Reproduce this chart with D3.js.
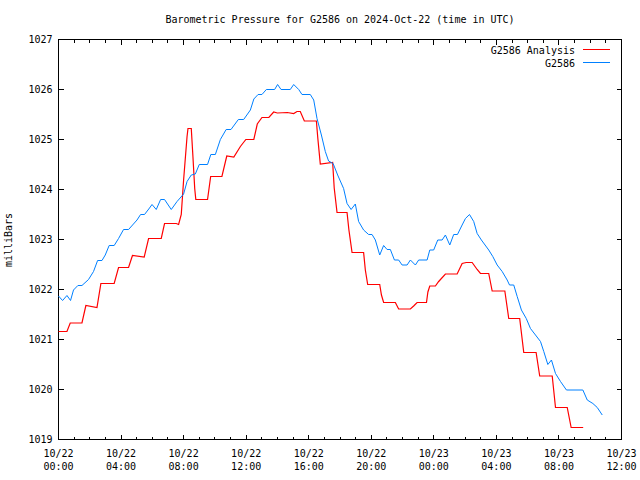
<!DOCTYPE html>
<html><head><meta charset="utf-8">
<script src="https://cdn.jsdelivr.net/npm/d3@7"></script>
<style>
body{margin:0;background:#fff}
text{font-family:"DejaVu Sans Mono","Liberation Mono",monospace;font-size:10px;fill:#000}
</style>
</head><body>
<svg id="c" width="640" height="480"></svg>
<script>
// ---- data (hours since 2024-10-22 00:00 UTC, pressure in millibars) ----
const analysisHours = [0,0.54,0.75,1.5,1.75,2.46,2.71,3.56,3.84,4.48,4.73,5.48,5.76,6.57,6.78,7.53,7.68,7.85,8.0,8.22,8.28,8.49,8.59,8.71,8.78,9.53,9.73,10.45,10.76,11.21,11.63,11.98,12.49,12.71,13.01,13.45,13.76,13.99,14.63,15.04,15.25,15.46,15.72,16.49,16.58,16.74,17.53,17.63,17.81,18.45,18.57,18.77,19.51,19.62,19.77,20.54,20.65,20.79,21.54,21.75,22.5,22.71,22.93,23.53,23.62,23.74,24.1,24.31,24.74,25.49,25.81,26.07,26.45,26.77,26.98,27.51,27.73,28.54,28.79,29.49,29.75,30.54,30.77,31.57,31.78,32.53,32.78,33.55];
const analysisValues = [1021.16,1021.16,1021.33,1021.33,1021.68,1021.64,1022.12,1022.12,1022.44,1022.44,1022.68,1022.65,1023.02,1023.02,1023.32,1023.32,1023.30,1023.50,1024.19,1025.06,1025.22,1025.22,1024.69,1024.02,1023.80,1023.80,1024.26,1024.26,1024.67,1024.65,1024.86,1025.00,1025.00,1025.31,1025.44,1025.44,1025.55,1025.53,1025.54,1025.52,1025.56,1025.56,1025.37,1025.37,1025.03,1024.51,1024.54,1024.03,1023.54,1023.54,1023.19,1022.74,1022.74,1022.39,1022.10,1022.10,1021.89,1021.74,1021.74,1021.61,1021.61,1021.67,1021.74,1021.74,1021.95,1022.07,1022.07,1022.16,1022.31,1022.31,1022.52,1022.54,1022.54,1022.40,1022.32,1022.32,1021.97,1021.97,1021.42,1021.42,1020.74,1020.74,1020.27,1020.27,1019.64,1019.64,1019.24,1019.24];

const obsHours = [0,0.26,0.54,0.77,0.96,1.24,1.5,1.92,2.24,2.5,2.78,2.99,3.24,3.56,3.84,4.16,4.48,5.02,5.25,5.5,5.82,5.98,6.25,6.53,6.78,7.21,7.58,8.0,8.22,8.49,8.75,9.0,9.53,9.74,10.03,10.35,10.72,11.03,11.5,11.84,12.27,12.49,12.76,13.01,13.29,13.82,14.01,14.23,14.82,15.04,15.36,15.57,16.1,16.32,16.53,16.81,17.06,17.27,17.56,17.85,18.23,18.45,18.71,18.98,19.19,19.51,19.83,20.05,20.26,20.54,20.79,21.01,21.22,21.48,21.75,21.97,22.29,22.5,22.82,23.03,23.57,23.74,23.99,24.25,24.53,24.74,25.02,25.27,25.51,25.81,26.02,26.28,26.55,26.77,27.04,27.51,27.77,28.05,28.37,28.69,28.84,29.11,29.33,29.6,29.91,30.18,30.5,30.82,31.03,31.29,31.52,31.78,32.1,32.48,33.53,33.81,34.17,34.45,34.77];
const obsValues = [1021.87,1021.78,1021.88,1021.78,1021.99,1022.08,1022.08,1022.20,1022.36,1022.58,1022.58,1022.69,1022.88,1022.88,1023.02,1023.20,1023.20,1023.39,1023.50,1023.50,1023.63,1023.70,1023.60,1023.80,1023.80,1023.60,1023.76,1023.91,1024.16,1024.29,1024.31,1024.50,1024.50,1024.70,1024.70,1025.00,1025.20,1025.20,1025.40,1025.40,1025.59,1025.81,1025.90,1025.90,1026.00,1026.00,1026.10,1026.00,1026.00,1026.10,1026.00,1025.90,1025.90,1025.79,1025.42,1025.09,1024.76,1024.57,1024.52,1024.29,1024.02,1023.72,1023.60,1023.71,1023.36,1023.19,1023.10,1023.10,1022.99,1022.69,1022.88,1022.80,1022.80,1022.59,1022.59,1022.49,1022.49,1022.59,1022.49,1022.59,1022.59,1022.79,1022.79,1022.99,1022.99,1023.09,1022.89,1023.10,1023.10,1023.29,1023.42,1023.50,1023.36,1023.12,1022.99,1022.79,1022.66,1022.49,1022.36,1022.19,1022.09,1022.09,1021.86,1021.59,1021.42,1021.22,1021.09,1020.96,1020.76,1020.50,1020.59,1020.32,1020.16,1019.99,1019.99,1019.79,1019.72,1019.64,1019.49];

const yTicks = [1019,1020,1021,1022,1023,1024,1025,1026,1027];
const xTickHours = [0,4,8,12,16,20,24,28,32,36];
const xTickDates = ["10/22","10/22","10/22","10/22","10/22","10/22","10/23","10/23","10/23","10/23"];
const xTickTimes = ["00:00","04:00","08:00","12:00","16:00","20:00","00:00","04:00","08:00","12:00"];
const seriesNames = ["G2586 Analysis","G2586"];
const seriesColors = ["#ff0000","#0080ff"];

// ---- layout ----
const L = 58.5, R = 621.5, T = 39.5, B = 439.5;
const svg = d3.select("#c");
const x = d3.scaleLinear().domain([0,36]).range([L,R]);
const y = d3.scaleLinear().domain([1019,1027]).range([B,T]);

const g = svg.append("g").attr("shape-rendering","crispEdges");
// minor & major ticks (all four sides)
const minor = d3.range(0,37);
minor.forEach(h=>{
  const len = (h%4===0)?5:3;
  g.append("line").attr("x1",x(h)).attr("x2",x(h)).attr("y1",B).attr("y2",B-len).attr("stroke","#000");
  g.append("line").attr("x1",x(h)).attr("x2",x(h)).attr("y1",T).attr("y2",T+len).attr("stroke","#000");
});
yTicks.forEach(v=>{
  g.append("line").attr("x1",L).attr("x2",L+5).attr("y1",y(v)).attr("y2",y(v)).attr("stroke","#000");
  g.append("line").attr("x1",R).attr("x2",R-5).attr("y1",y(v)).attr("y2",y(v)).attr("stroke","#000");
});
g.append("rect").attr("x",L).attr("y",T).attr("width",R-L).attr("height",B-T)
  .attr("fill","none").attr("stroke","#000");

// y labels
yTicks.forEach(v=>{
  svg.append("text").attr("x",L-6).attr("y",y(v)+3.5).attr("text-anchor","end").text(v);
});
// x labels
xTickHours.forEach((h,i)=>{
  svg.append("text").attr("x",x(h)).attr("y",457).attr("text-anchor","middle").text(xTickDates[i]);
  svg.append("text").attr("x",x(h)).attr("y",470).attr("text-anchor","middle").text(xTickTimes[i]);
});
// title and axis title
svg.append("text").attr("x",(L+R)/2).attr("y",23).attr("text-anchor","middle")
  .text("Barometric Pressure for G2586 on 2024-Oct-22 (time in UTC)");
svg.append("text").attr("transform","translate(12,240) rotate(-90)").attr("text-anchor","middle").text("milliBars");

// lines
const line = d3.line().x(d=>x(d[0])).y(d=>y(d[1]));
const analysis = analysisHours.map((h,i)=>[h,analysisValues[i]]);
const obs = obsHours.map((h,i)=>[h,obsValues[i]]);
svg.append("path").datum(analysis).attr("d",line).attr("fill","none")
  .attr("stroke",seriesColors[0]).attr("stroke-width",1.2);
svg.append("path").datum(obs).attr("d",line).attr("fill","none")
  .attr("stroke",seriesColors[1]).attr("stroke-width",1);

// legend
seriesNames.forEach((n,i)=>{
  const ly = 50 + i*13;
  svg.append("text").attr("x",575).attr("y",ly+3.5).attr("text-anchor","end").text(n);
  svg.append("line").attr("x1",583).attr("x2",610).attr("y1",ly-0.5).attr("y2",ly-0.5)
    .attr("stroke",seriesColors[i]).attr("stroke-width",1).attr("shape-rendering","crispEdges");
});
</script>
</body></html>
